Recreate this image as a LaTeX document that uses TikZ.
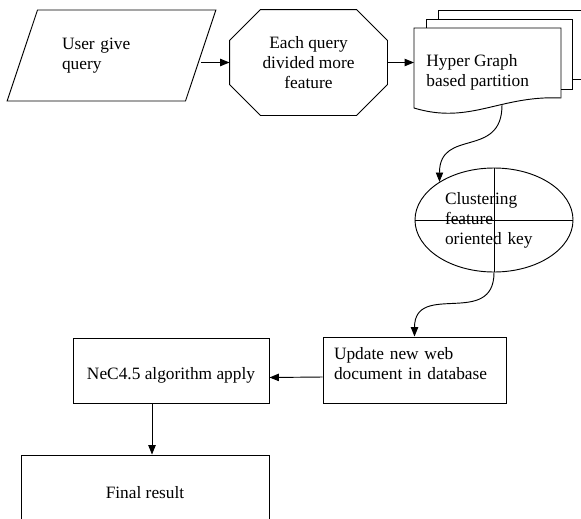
\documentclass[tikz,border=0pt]{standalone}
\usepackage{fontspec}
\setmainfont{Liberation Serif}
\usetikzlibrary{arrows.meta,shapes.geometric}

\begin{document}
\begin{tikzpicture}[x=0.75pt,y=-0.75pt,line width=0.7pt,
	font=\fontsize{13}{15}\selectfont,
	arr/.style={-{Triangle[length=7pt,width=5.5pt]}},
	box/.style={draw,rectangle,inner sep=0pt}]
	\useasboundingbox (0,0) rectangle (581,518);

	\node[draw,trapezium,trapezium left angle=60,trapezium right angle=120,trapezium stretches,
		minimum width=156.75pt,minimum height=68.25pt,text width=74.25pt,align=left,inner sep=0pt] (Q) at (111.5,55.5) {User give\\query};

	% octagon
	\node[rectangle,minimum width=117.75pt,minimum height=78.75pt,align=center,inner sep=0pt] (D) at (308.5,62.5) {Each query\\divided more\\feature};
	\draw ([xshift=23.25pt]D.north west) -- ([xshift=-23.25pt]D.north east) -- ([yshift=-23.25pt]D.north east)
		-- ([yshift=23.25pt]D.south east) -- ([xshift=-23.25pt]D.south east) -- ([xshift=23.25pt]D.south west)
		-- ([yshift=23.25pt]D.south west) -- ([yshift=-23.25pt]D.north west) -- cycle;

	% stack of documents
	\node[align=left,anchor=west,inner xsep=9pt,inner ysep=0pt] (H) at (414,72.5) {Hyper Graph\\based partition};
	\draw (414,28) -- (561,28) -- (561,98) .. controls (500,95) and (470,125) .. (414,108) -- cycle;
	\draw (426,28) -- (426,19) -- (572,19) -- (572,89) -- (561,89);
	\draw (438,19) -- (438,10) -- (590,10);
	\draw (572,79) -- (590,79);
	\coordinate (Hb) at (502,105);

	\node[draw,ellipse,minimum width=118.5pt,minimum height=78pt,inner sep=0pt,text width=73.5pt,align=left] (K) at (494,220) {Clustering\\feature\\oriented key};
	\draw (K.north) -- (K.south) (K.west) -- (K.east);

	\node[box,minimum width=137.25pt,minimum height=49.5pt,text width=120.75pt,align=left,text depth=25pt] (U) at (414.5,370) {Update new web\\document in database};
	\node[box,minimum width=147pt,minimum height=48.75pt,text height=15.5pt,text depth=2.5pt] (N) at (171,370.5) {NeC4.5 algorithm apply};
	\node[box,minimum width=186pt,minimum height=57pt] (F) at (145,493) {Final result};

	\draw[arr] (D.west -| Q.east) -- (D.west);
	\draw[arr] (D.east) -- (D.east -| H.west);
	\draw[arr] (Hb) to[out=-90,in=90,looseness=1.4] (K.145);
	\draw[arr] (K.south) to[out=-90,in=90,looseness=1.4] (U.north);
	\draw[arr] ([yshift=-5.25pt]U.west) -- ([yshift=-5.25pt]N.east);
	\draw[arr] ([xshift=-14.25pt]N.south) -- ([xshift=-14.25pt]N.south |- F.north);
\end{tikzpicture}
\end{document}
